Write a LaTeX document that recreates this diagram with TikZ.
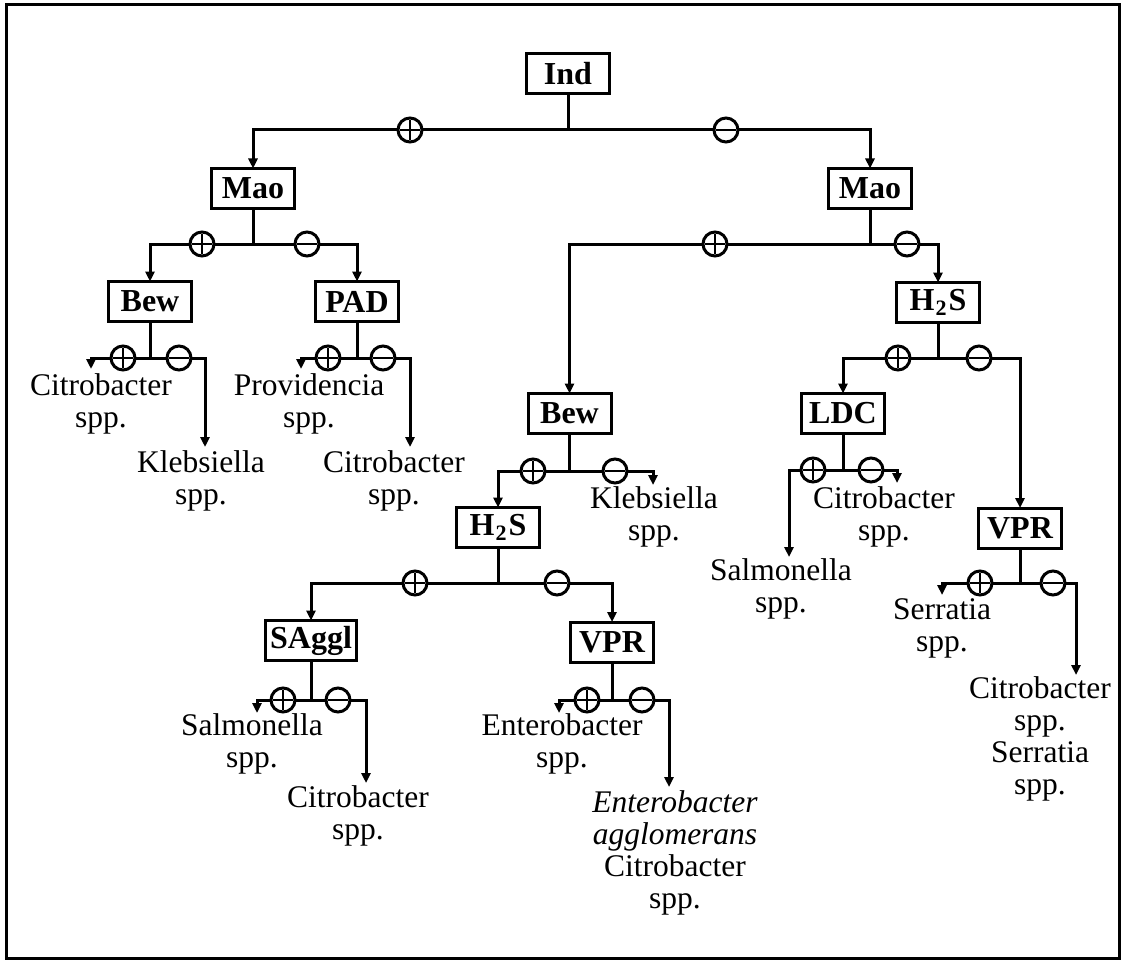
\documentclass[tikz,border=0pt]{standalone}
\usepackage{fontspec}
\setmainfont{Liberation Serif}
\usetikzlibrary{arrows.meta}
\newcommand{\hstwo}{H\kern1pt\raisebox{-5pt}{\fontsize{22}{22}\selectfont 2}\kern2pt S}
\begin{document}
\begin{tikzpicture}[x=1pt,y=-1pt,
  every node/.style={outer sep=0pt},
  test/.style={draw, line width=3pt, minimum width=83pt, minimum height=40pt,
    inner xsep=5pt, inner ysep=2pt, font=\bfseries\fontsize{32}{32}\selectfont},
  sign/.style={circle, draw, line width=3pt, fill=white, minimum size=24pt, inner sep=0pt},
  plussign/.style={sign, path picture={
    \draw[line width=2pt] ([xshift=-10pt]path picture bounding box.center) -- ([xshift=10pt]path picture bounding box.center);
    \draw[line width=2pt] ([yshift=-10pt]path picture bounding box.center) -- ([yshift=10pt]path picture bounding box.center);}},
  minussign/.style={sign, path picture={
    \draw[line width=2.8pt] ([xshift=-10pt]path picture bounding box.center) -- ([xshift=10pt]path picture bounding box.center);}},
  leaf/.style={anchor=north, align=center, inner sep=0pt, font=\fontsize{31.5}{32}\selectfont},
  link/.style={line width=3pt},
  arr/.style={link, -{Triangle[width=9pt,length=10pt]}}
]
\useasboundingbox (0,0) rectangle (1121,960);
\draw[line width=3pt] (6,5) rectangle (1119,958);

% test boxes
\node[test] (ind)   at (568,73.5)   {Ind};
\node[test] (maoL)  at (253,188.5)  {Mao};
\node[test] (maoR)  at (870,188.5)  {Mao};
\node[test] (bewL)  at (150,301.5)  {Bew};
\node[test] (pad)   at (357,301.5)  {PAD};
\node[test] (hsR)   at (938,302.5)  {\hstwo};
\node[test] (bewM)  at (569.5,413.5){Bew};
\node[test] (ldc)   at (843,413.5)  {LDC};
\node[test] (hsM)   at (498,527.5)  {\hstwo};
\node[test] (vprR)  at (1020,528)   {VPR};
\node[test] (saggl) at (311,640.5)  {SAggl};
\node[test] (vprM)  at (612,642)    {VPR};

% branch junctions
\coordinate (jInd)   at (568,130);
\coordinate (jMaoL)  at (253,244);
\coordinate (jMaoR)  at (870,244);
\coordinate (jBewL)  at (150,358);
\coordinate (jPad)   at (357,358);
\coordinate (jHsR)   at (938,358);
\coordinate (jBewM)  at (569.5,471);
\coordinate (jLdc)   at (843,470);
\coordinate (jHsM)   at (498,583);
\coordinate (jVprR)  at (1020,583);
\coordinate (jSaggl) at (311,700);
\coordinate (jVprM)  at (612,700);

% result signs
\node[plussign] (pInd)   at (410,130) {};  \node[minussign] (mInd)   at (726,130) {};
\node[plussign] (pMaoL)  at (202,244) {};  \node[minussign] (mMaoL)  at (307,244) {};
\node[plussign] (pMaoR)  at (715,244) {};  \node[minussign] (mMaoR)  at (907,244) {};
\node[plussign] (pBewL)  at (123,358) {};  \node[minussign] (mBewL)  at (179,358) {};
\node[plussign] (pPad)   at (328,358) {};  \node[minussign] (mPad)   at (383,358) {};
\node[plussign] (pHsR)   at (898,358) {};  \node[minussign] (mHsR)   at (979,358) {};
\node[plussign] (pBewM)  at (533,471) {};  \node[minussign] (mBewM)  at (615,471) {};
\node[plussign] (pLdc)   at (813,470) {};  \node[minussign] (mLdc)   at (871,470) {};
\node[plussign] (pHsM)   at (415,583) {};  \node[minussign] (mHsM)   at (557,583) {};
\node[plussign] (pVprR)  at (980,583) {};  \node[minussign] (mVprR)  at (1053,583) {};
\node[plussign] (pSaggl) at (283,700) {};  \node[minussign] (mSaggl) at (338,700) {};
\node[plussign] (pVprM)  at (587,700) {};  \node[minussign] (mVprM)  at (642,700) {};

% arrow ends above the results
\coordinate (tBewLp)  at (91,369);   \coordinate (tBewLm)  at (205,447);
\coordinate (tPadp)   at (301,369);  \coordinate (tPadm)   at (410,447);
\coordinate (tBewMm)  at (653,485);
\coordinate (tLdcp)   at (789,557);  \coordinate (tLdcm)   at (897,483);
\coordinate (tVprRp)  at (942,595);  \coordinate (tVprRm)  at (1076,675);
\coordinate (tSagglp) at (257,713);  \coordinate (tSagglm) at (366,783);
\coordinate (tVprMp)  at (559,713);  \coordinate (tVprMm)  at (669,787);

% results
\node[leaf] (rBewLp)  at (101,373.5)  {Citrobacter\\spp.};
\node[leaf] (rBewLm)  at (201,450.5)  {Klebsiella\\spp.};
\node[leaf] (rPadp)   at (309,373.5)  {Providencia\\spp.};
\node[leaf] (rPadm)   at (394,450.5)  {Citrobacter\\spp.};
\node[leaf] (rBewMm)  at (654,486.5)  {Klebsiella\\spp.};
\node[leaf] (rLdcp)   at (781,558.5)  {Salmonella\\spp.};
\node[leaf] (rLdcm)   at (884,486.5)  {Citrobacter\\spp.};
\node[leaf] (rVprRp)  at (942,598.5)  {Serratia\\spp.};
\node[leaf] (rVprRm)  at (1040,676.5) {Citrobacter\\spp.\\Serratia\\spp.};
\node[leaf] (rSagglp) at (252,713.5)  {Salmonella\\spp.};
\node[leaf] (rSagglm) at (358,785.5)  {Citrobacter\\spp.};
\node[leaf] (rVprMp)  at (562,713.5)  {Enterobacter\\spp.};
\node[leaf] (rVprMm)  at (675,790.5)  {\textit{Enterobacter}\\\textit{agglomerans}\\Citrobacter\\spp.};

% connectors
\foreach \b/\j/\p/\m in {ind/jInd/pInd/mInd, maoL/jMaoL/pMaoL/mMaoL, maoR/jMaoR/pMaoR/mMaoR,
    bewL/jBewL/pBewL/mBewL, pad/jPad/pPad/mPad, hsR/jHsR/pHsR/mHsR, bewM/jBewM/pBewM/mBewM,
    ldc/jLdc/pLdc/mLdc, hsM/jHsM/pHsM/mHsM, vprR/jVprR/pVprR/mVprR, saggl/jSaggl/pSaggl/mSaggl,
    vprM/jVprM/pVprM/mVprM}{
  \draw[link] (\b.south) -- (\j);
  \draw[link] (\j) -- (\p);
  \draw[link] (\j) -- (\m);
}
\draw[arr] (pInd)   -| (maoL.north);
\draw[arr] (mInd)   -| (maoR.north);
\draw[arr] (pMaoL)  -| (bewL.north);
\draw[arr] (mMaoL)  -| (pad.north);
\draw[arr] (pMaoR)  -| (bewM.north);
\draw[arr] (mMaoR)  -| (hsR.north);
\draw[arr] (pBewL)  -| (tBewLp);
\draw[arr] (mBewL)  -| (tBewLm);
\draw[arr] (pPad)   -| (tPadp);
\draw[arr] (mPad)   -| (tPadm);
\draw[arr] (pHsR)   -| (ldc.north);
\draw[arr] (mHsR)   -| (vprR.north);
\draw[arr] (pBewM)  -| (hsM.north);
\draw[arr] (mBewM)  -| (tBewMm);
\draw[arr] (pLdc)   -| (tLdcp);
\draw[arr] (mLdc)   -| (tLdcm);
\draw[arr] (pHsM)   -| (saggl.north);
\draw[arr] (mHsM)   -| (vprM.north);
\draw[arr] (pVprR)  -| (tVprRp);
\draw[arr] (mVprR)  -| (tVprRm);
\draw[arr] (pSaggl) -| (tSagglp);
\draw[arr] (mSaggl) -| (tSagglm);
\draw[arr] (pVprM)  -| (tVprMp);
\draw[arr] (mVprM)  -| (tVprMm);
\end{tikzpicture}
\end{document}
